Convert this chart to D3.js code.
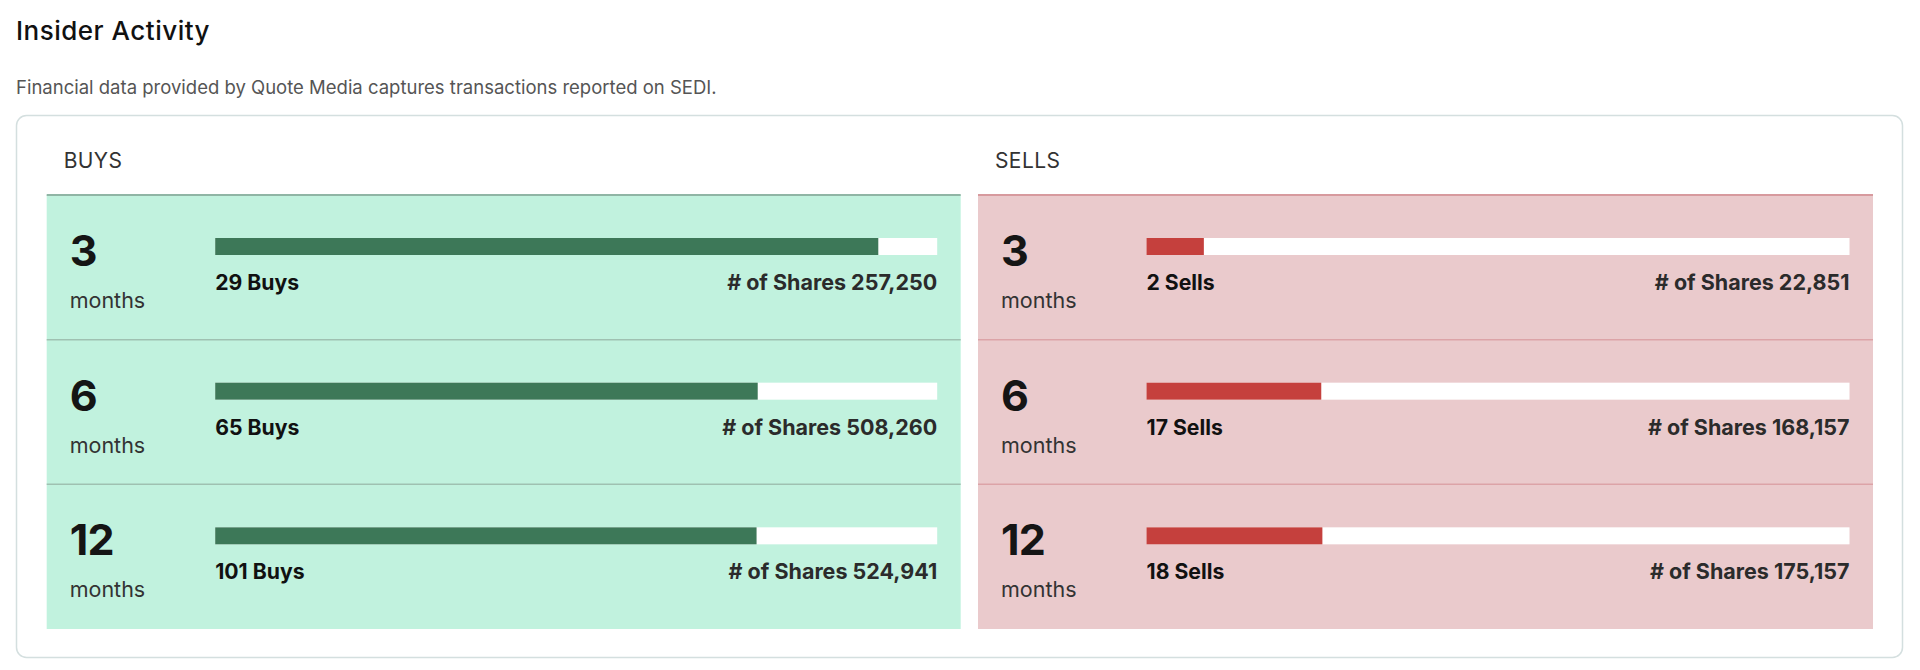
<!DOCTYPE html>
<html>
<head>
<meta charset="utf-8">
<script src="https://cdnjs.cloudflare.com/ajax/libs/d3/7.8.5/d3.min.js"></script>
<style>
  html, body { margin: 0; padding: 0; background: #fff; }
  svg { display: block; font-family: Inter, "Noto Sans", sans-serif; }
</style>
</head>
<body>
<svg id="chart" width="1920" height="670"></svg>
<script>
// data
const periods = ['3', '6', '12'];
const buyCounts = [29, 65, 101];
const buyShares = [257250, 508260, 524941];
const sellCounts = [2, 17, 18];
const sellShares = [22851, 168157, 175157];

const fmt = d3.format(',');
const svg = d3.select('#chart');

svg.append('text').attr('x', 16).attr('y', 40)
  .attr('font-size', 26).attr('font-weight', 500).attr('fill', '#111')
  .attr('letter-spacing', 0.5)
  .text('Insider Activity');

svg.append('text').attr('x', 16).attr('y', 94)
  .attr('font-size', 18.5).attr('fill', '#555')
  .text('Financial data provided by Quote Media captures transactions reported on SEDI.');

// card
svg.append('rect')
  .attr('x', 16.5).attr('y', 115.5).attr('width', 1886).attr('height', 542)
  .attr('rx', 10).attr('fill', '#fff')
  .attr('stroke', '#d4dfdf').attr('stroke-width', 1.5);

const y = d3.scaleBand().domain(periods).range([195, 629]);

const panels = [
  { title: 'BUYS', x0: 46.7, x1: 960.7, counts: buyCounts, shares: buyShares, word: 'Buys',
    bg: '#c1f2de', top: '#90b5a5', sep: '#9fc1b1', fill: '#3d7858' },
  { title: 'SELLS', x0: 978, x1: 1873, counts: sellCounts, shares: sellShares, word: 'Sells',
    bg: '#eacacc', top: '#d79a9e', sep: '#dca3a7', fill: '#c5403d' }
];

panels.forEach(p => {
  const g = svg.append('g');

  g.append('text').attr('x', p.x0 + 17).attr('y', 168)
    .attr('font-size', 21).attr('fill', '#333').attr('letter-spacing', 0.4)
    .text(p.title);

  g.append('rect')
    .attr('x', p.x0).attr('y', y.range()[0])
    .attr('width', p.x1 - p.x0).attr('height', y.range()[1] - y.range()[0])
    .attr('fill', p.bg);

  const rows = g.selectAll('g.row').data(periods).join('g')
    .attr('class', 'row')
    .attr('transform', d => `translate(0,${y(d)})`);

  rows.append('line')
    .attr('x1', p.x0).attr('x2', p.x1).attr('y1', 0).attr('y2', 0)
    .attr('stroke', (d, i) => i === 0 ? p.top : p.sep)
    .attr('stroke-width', (d, i) => i === 0 ? 2 : 1.5);

  rows.append('text').attr('x', p.x0 + 23).attr('y', 71)
    .attr('font-size', 43).attr('font-weight', 700).attr('fill', '#151515')
    .attr('letter-spacing', -0.8)
    .text(d => d);

  rows.append('text').attr('x', p.x0 + 23).attr('y', 113)
    .attr('font-size', 21.5).attr('fill', '#333')
    .text('months');

  const bx0 = p.x0 + 168.5, bx1 = p.x1 - 23.5;

  rows.each(function (d, i) {
    const row = d3.select(this);
    const x = d3.scaleLinear()
      .domain([0, buyShares[i] + sellShares[i]])
      .range([bx0, bx1]);

    row.append('rect')
      .attr('x', x(0)).attr('y', 43)
      .attr('width', x.range()[1] - x(0)).attr('height', 17)
      .attr('fill', '#fff');

    row.append('rect')
      .attr('x', x(0)).attr('y', 43)
      .attr('width', x(p.shares[i]) - x(0)).attr('height', 17)
      .attr('fill', p.fill);

    row.append('text').attr('x', bx0).attr('y', 95)
      .attr('font-size', 21.2).attr('font-weight', 700).attr('fill', '#111')
      .text(`${p.counts[i]} ${p.word}`);

    row.append('text').attr('x', bx1).attr('y', 95)
      .attr('text-anchor', 'end')
      .attr('font-size', 21.5).attr('font-weight', 700).attr('fill', '#2b2b2b')
      .text(`# of Shares ${fmt(p.shares[i])}`);
  });
});
</script>
</body>
</html>
